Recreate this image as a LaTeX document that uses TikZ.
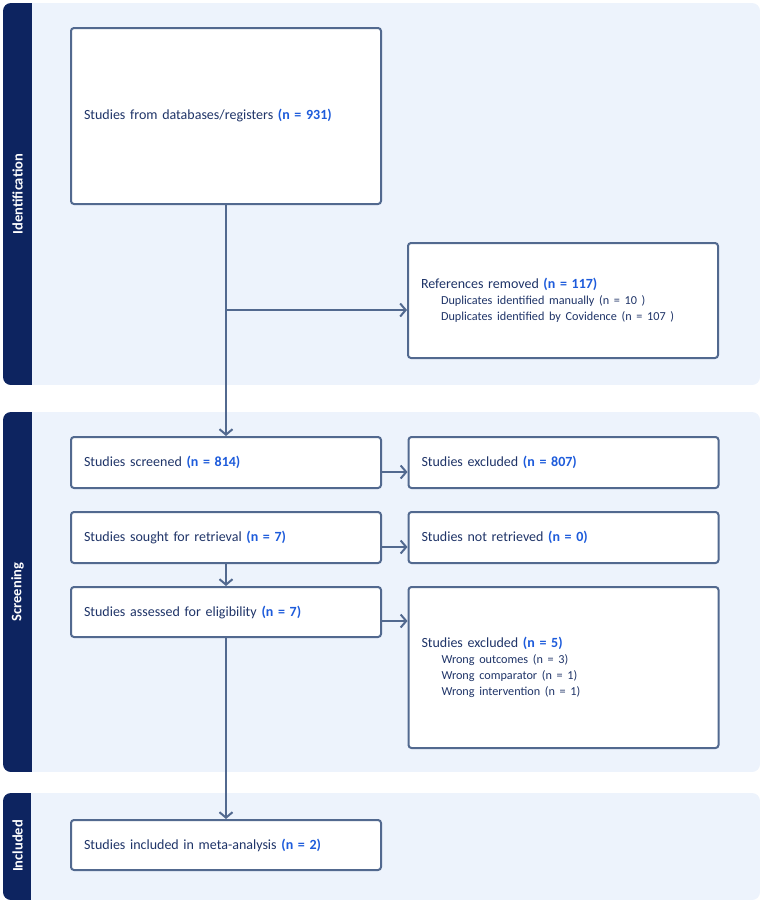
\documentclass[tikz,border=0pt]{standalone}
\usepackage{fontspec}
\setmainfont{Carlito}
\usetikzlibrary{positioning,arrows.meta,calc}
\definecolor{FlowLine}{HTML}{52698F}
\definecolor{FlowText}{HTML}{1F3468}
\definecolor{FlowNum}{HTML}{1D5BDB}
\definecolor{PanelFill}{HTML}{EDF3FC}
\definecolor{PanelBar}{HTML}{0D2460}
\newcommand{\ncount}[1]{\textcolor{FlowNum}{\textbf{(n = #1)}}}
\newcommand{\subline}[1]{\hspace*{20pt}{\fontsize{12.2}{16}\selectfont #1}}
\tikzset{
  stagebox/.style={rectangle, draw=FlowLine, line width=2pt, rounded corners=3pt, fill=white,
    minimum width=310pt, text width=284pt, inner xsep=13pt, align=left, text=FlowText,
    font=\fontsize{14}{16}\selectfont},
  flow/.style={draw=FlowLine, line width=2pt, -{Straight Barb[length=5.5pt,width=13pt]}},
  phase/.style={rotate=90, text=white, font=\fontsize{14.5}{15}\selectfont\bfseries},
}
\begin{document}
\begin{tikzpicture}[x=1pt,y=-1pt]
  \useasboundingbox (0,0) rectangle (764,903);
  % phase panels
  \begin{scope}
    \clip[rounded corners=8pt] (3,3) rectangle (760,385);
    \fill[PanelFill] (3,3) rectangle (760,385);
    \fill[PanelBar] (3,3) rectangle (32,385);
  \end{scope}
  \begin{scope}
    \clip[rounded corners=8pt] (3,412) rectangle (760,772);
    \fill[PanelFill] (3,412) rectangle (760,772);
    \fill[PanelBar] (3,412) rectangle (32,772);
  \end{scope}
  \begin{scope}
    \clip[rounded corners=8pt] (3,793) rectangle (760,900);
    \fill[PanelFill] (3,793) rectangle (760,900);
    \fill[PanelBar] (3,793) rectangle (31,900);
  \end{scope}
  \node[phase] (pid) at (17.5,194) {Identification};
  \node[phase] (pscr) at (17.5,592) {Screening};
  \node[phase] (pinc) at (17.5,846) {Included};

  % identification
  \node[stagebox, minimum height=176pt] (found) at (226,116) {Studies from databases/registers \ncount{931}};
  \node[stagebox, minimum height=115pt] (removed) at (563,300.5) {References removed \ncount{117}\\
    \subline{Duplicates identified manually (n = 10 )}\\
    \subline{Duplicates identified by Covidence (n = 107 )}};
  \coordinate (split) at (226,310);
  \draw[flow] (split) -- (removed.west |- split);

  % screening
  \node[stagebox, minimum height=51pt] (screened) at (226,462.5) {Studies screened \ncount{814}};
  \draw[flow] (found) -- (screened);
  \node[stagebox, minimum height=51pt] (excl1) at (563.5,462.5) {Studies excluded \ncount{807}};
  \coordinate (p1) at ($(screened.east)+(0,9.5)$);
  \draw[flow] (p1) -- (excl1.west |- p1);

  \node[stagebox, minimum height=51pt] (sought) at (226,537.5) {Studies sought for retrieval \ncount{7}};
  \node[stagebox, minimum height=51pt] (notret) at (563.5,537.5) {Studies not retrieved \ncount{0}};
  \coordinate (p2) at ($(sought.east)+(0,9.5)$);
  \draw[flow] (p2) -- (notret.west |- p2);

  \node[stagebox, minimum height=50pt] (assessed) at (226,612) {Studies assessed for eligibility \ncount{7}};
  \draw[flow] (sought) -- (assessed);
  \node[stagebox, minimum height=161pt] (excl2) at (563.5,667.5) {Studies excluded \ncount{5}\\
    \subline{Wrong outcomes (n = 3)}\\
    \subline{Wrong comparator (n = 1)}\\
    \subline{Wrong intervention (n = 1)}};
  \coordinate (p3) at ($(assessed.east)+(0,9)$);
  \draw[flow] (p3) -- (excl2.west |- p3);

  % included
  \node[stagebox, minimum height=50pt] (included) at (226,845) {Studies included in meta-analysis \ncount{2}};
  \draw[flow] (assessed) -- (included);
\end{tikzpicture}
\end{document}
